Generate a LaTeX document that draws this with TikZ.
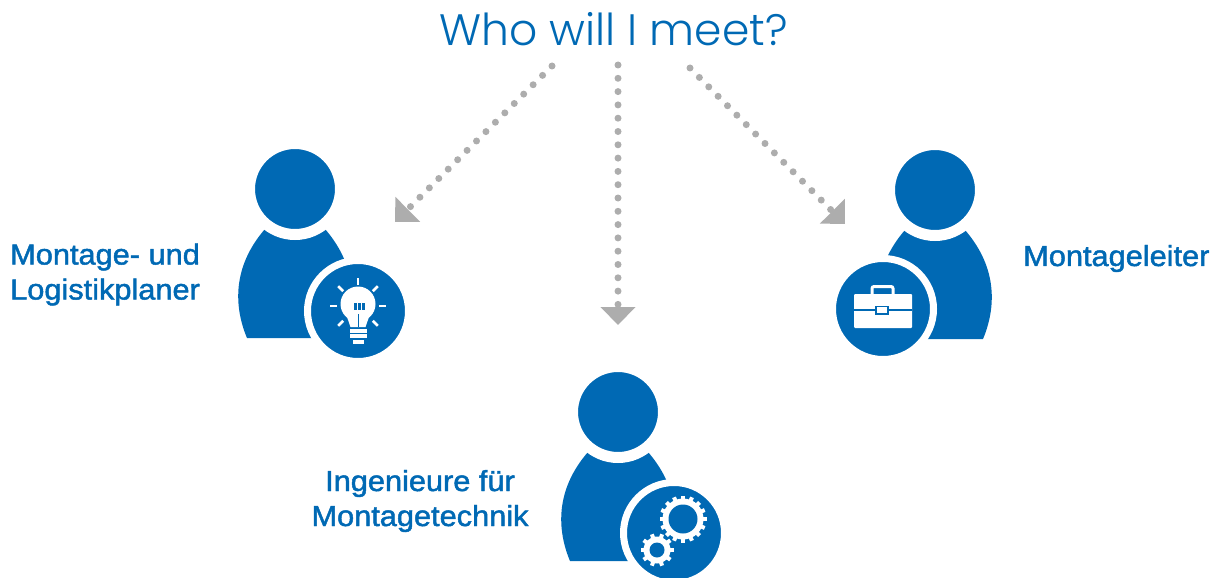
\documentclass[tikz,border=0pt]{standalone}
\usepackage{fontspec}
\setmainfont{Liberation Sans}[FakeBold=1.6, FakeStretch=1.06]
\newfontfamily\titlefont{Poppins Light}
\usetikzlibrary{arrows.meta}
\definecolor{iconblue}{HTML}{0069B4}
\definecolor{arrowgray}{HTML}{ADADAD}
\tikzset{
  headdot/.style={circle, inner sep=0pt, minimum size=91pt, fill=iconblue, draw=white, line width=11pt},
  badgedot/.style={circle, inner sep=0pt, minimum size=101pt, fill=iconblue, draw=white, line width=7pt},
  rolelabel/.style={text=iconblue, font=\fontsize{29}{35}\selectfont, inner sep=0pt},
  meetarrow/.style={arrowgray, line width=7pt, line cap=round, dash pattern=on 0pt off 13.3pt,
    -{Triangle[length=18pt, width=34pt]}},
  iconline/.style={white, line width=2.5pt},
}
\begin{document}
\begin{tikzpicture}[x=1pt, y=-1pt]
  \useasboundingbox (0,0) rectangle (1221,578);
  % Title
  \node[text=iconblue, font=\titlefont\fontsize{44}{50}\selectfont, inner sep=0pt] (meet) at (613.5,29) {Who will I meet?};
  % Arrows
  \coordinate (planerstart) at (552,66);
  \coordinate (planerend) at (395,222);
  \coordinate (technikstart) at (618,65);
  \coordinate (technikend) at (618,325);
  \coordinate (leiterstart) at (690,68);
  \coordinate (leiterend) at (845,224);
  \draw[meetarrow] (planerstart) -- (planerend);
  \draw[meetarrow] (technikstart) -- (technikend);
  \draw[meetarrow] (leiterstart) -- (leiterend);
  % Persons: body, head, badge
  \foreach \n/\x/\y/\bx/\by in {planer/295/189/358/311, technik/618/412/674/533, leiter/935/190/883/309} {
    \fill[iconblue, shift={(\x,\y)}] (-48,149) .. controls (-61,118) and (-63,78) .. (-30,40)
      -- (0,25) -- (30,40) .. controls (63,78) and (61,118) .. (48,149) -- cycle;
    \node[headdot] (\n head) at (\x,\y) {};
    \node[badgedot] (\n badge) at (\bx,\by) {};
  }
  % Light bulb
  \foreach \a in {0,45,135,180,225,270,315} {
    \draw[iconline, shift={(358,306)}] (\a:21) -- (\a:28);
  }
  \fill[white] (358,304) circle (17.5);
  \fill[white] (346,314) -- (370,314) -- (365.5,327) -- (350.5,327) -- cycle;
  \fill[white] (350,329) rectangle (367,332.5);
  \fill[white] (350,334) rectangle (367,338);
  \fill[white] (353,340) rectangle (364,343.5);
  \foreach \x in {353.5,357.5,361.5} {
    \fill[iconblue] (\x,303) rectangle ++(3,7);
  }
  \draw[iconblue, line width=1.8pt] (358.5,314) -- (358.5,327);
  % Gears
  \foreach \gx/\gy/\gr/\gh/\gn in {683/519/23.5/14.5/16, 657/550/16.5/7.5/10} {
    \pgfmathsetmacro\gstep{360/\gn}
    \begin{scope}[shift={(\gx,\gy)}]
      \fill[white] (0,0) circle (\gr-3);
      \foreach \k in {1,...,\gn} {
        \draw[white, line width=4pt] ({\k*\gstep}:\gr-4) -- ({\k*\gstep}:\gr);
      }
      \fill[iconblue] (0,0) circle (\gh);
    \end{scope}
  }
  % Briefcase
  \draw[white, line width=3pt, rounded corners=2pt] (872,295) -- (872,286.5) -- (893,286.5) -- (893,295);
  \fill[white, rounded corners=1pt] (854,294) rectangle (912,328);
  \draw[iconblue, line width=1.8pt] (854,310) -- (912,310);
  \fill[white, draw=iconblue, line width=1.8pt] (876,306.5) rectangle (888,314);
  % Labels
  \node[rolelabel, anchor=west, align=left] (planerlabel) at (10,274.5) {Montage- und\\Logistikplaner};
  \node[rolelabel, align=center] (techniklabel) at (420,501) {Ingenieure für\\Montagetechnik};
  \node[rolelabel, anchor=west] (leiterlabel) at (1023,258.5) {Montageleiter};
\end{tikzpicture}
\end{document}
